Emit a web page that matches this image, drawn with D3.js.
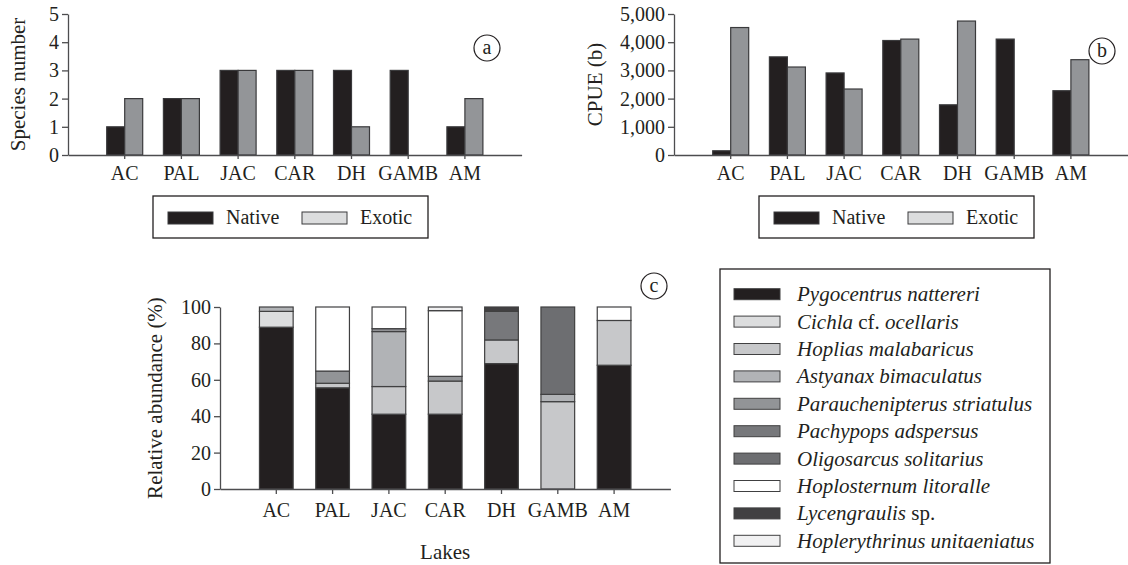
<!DOCTYPE html>
<html>
<head>
<meta charset="utf-8">
<script src="https://d3js.org/d3.v7.min.js"></script>
<style>
	body{margin:0;background:#fff;}
	svg text{font-family:"Liberation Serif","Times New Roman",serif;fill:#231f20;}
</style>
</head>
<body>
<svg id="chart" width="1128" height="565"></svg>
<script>
var lakes = ["AC", "PAL", "JAC", "CAR", "DH", "GAMB", "AM"];
var origins = ["Native", "Exotic"];

var speciesNative = [1, 2, 3, 3, 3, 3, 1];
var speciesExotic = [2, 2, 3, 3, 1, 0, 2];
var speciesTicks = [0, 1, 2, 3, 4, 5];

var cpueNative = [150, 3480, 2910, 4060, 1780, 4110, 2280];
var cpueExotic = [4520, 3120, 2340, 4110, 4750, 0, 3380];
var cpueTicks = [0, 1000, 2000, 3000, 4000, 5000];

var species = [
	"Pygocentrus nattereri", "Cichla cf. ocellaris", "Hoplias malabaricus",
	"Astyanax bimaculatus", "Parauchenipterus striatulus", "Pachypops adspersus",
	"Oligosarcus solitarius", "Hoplosternum litoralle", "Lycengraulis sp.",
	"Hoplerythrinus unitaeniatus"
];
// relative abundance (%) by lake, same order as lakes
var pygocentrus = [88.9, 55.6, 41.1, 41.1, 68.9, 0, 68.0];
var cichla = [8.7, 0, 0, 0, 0, 0, 0];
var hoplias = [0, 2.5, 15.2, 18.2, 13.0, 48.0, 24.6];
var astyanax = [2.4, 0, 30.2, 0, 0, 4.0, 0];
var parauchenipterus = [0, 6.7, 1.6, 2.6, 0, 0, 0];
var pachypops = [0, 0, 0, 0, 15.7, 0, 0];
var oligosarcus = [0, 0, 0, 0, 0, 48.0, 0];
var hoplosternum = [0, 35.2, 11.9, 36.1, 0, 0, 7.4];
var lycengraulis = [0, 0, 0, 0, 2.4, 0, 0];
var hoplerythrinus = [0, 0, 0, 2.0, 0, 0, 0];
var abundanceTicks = [0, 20, 40, 60, 80, 100];

var abundance = [pygocentrus, cichla, hoplias, astyanax, parauchenipterus,
	pachypops, oligosarcus, hoplosternum, lycengraulis, hoplerythrinus];
var speciesColors = ["#231f20", "#dcddde", "#c7c8ca", "#b1b3b6", "#929497",
	"#77787b", "#6d6e71", "#ffffff", "#414042", "#f1f1f2"];

var svg = d3.select("#chart");
var AXIS = "#4d4d4f";

function styleAxis(g){
	g.selectAll("path, line").attr("stroke", AXIS).attr("stroke-width", 1.3);
	g.selectAll("text").style("font-size", "20px").attr("fill", "#231f20");
}

function circleLabel(x, y, t){
	svg.append("circle").attr("cx", x).attr("cy", y).attr("r", 13)
		.attr("fill", "none").attr("stroke", "#231f20").attr("stroke-width", 1.2);
	svg.append("text").attr("x", x).attr("y", y + 6)
		.attr("text-anchor", "middle").style("font-size", "20px").text(t);
}

function yTitle(x, y, t){
	svg.append("text")
		.attr("transform", "translate(" + [x, y] + ") rotate(-90)")
		.attr("text-anchor", "middle")
		.style("font-size", "21px")
		.text(t);
}

function groupedPanel(left, top, bottom, maxVal, nat, exo, ticks, fmt, title, tag, tagPos){
	var step = 56.7;
	var x = d3.scaleBand().domain(lakes).range([left, left + 8 * step]).paddingOuter(0.5);
	var x1 = d3.scaleBand().domain(origins).range([-18, 18]);
	var y = d3.scaleLinear().domain([0, maxVal]).range([bottom, top]);

	var rows = lakes.map(function(d, i){
		return {lake: d, values: [{k: "Native", v: nat[i]}, {k: "Exotic", v: exo[i]}]};
	});

	var g = svg.append("g");
	g.selectAll("g.lake")
		.data(rows)
		.enter()
		.append("g")
		.attr("class", "lake")
		.attr("transform", function(d){ return "translate(" + (x(d.lake) + x.bandwidth() / 2) + ",0)"; })
		.selectAll("rect")
		.data(function(d){ return d.values.filter(function(e){ return e.v > 0; }); })
		.enter()
		.append("rect")
		.attr("x", function(d){ return x1(d.k); })
		.attr("width", x1.bandwidth())
		.attr("y", function(d){ return y(d.v); })
		.attr("height", function(d){ return bottom - y(d.v); })
		.attr("fill", function(d){ return d.k === "Native" ? "#231f20" : "#939598"; })
		.attr("stroke", "#3a3a3c")
		.attr("stroke-width", 1.2);

	svg.append("g")
		.attr("transform", "translate(0," + bottom + ")")
		.call(d3.axisBottom(x).tickSize(4).tickSizeOuter(0).tickPadding(7))
		.call(styleAxis);

	svg.append("g")
		.attr("transform", "translate(" + left + ",0)")
		.call(d3.axisLeft(y).tickValues(ticks).tickFormat(fmt).tickSize(6).tickSizeOuter(0).tickPadding(3))
		.call(styleAxis);

	yTitle(title.x, (top + bottom) / 2, title.text);
	circleLabel(tagPos[0], tagPos[1], tag);

	// legend box
	var lx = left + 85;
	svg.append("rect").attr("x", lx).attr("y", 196).attr("width", 275).attr("height", 42)
		.attr("fill", "none").attr("stroke", "#231f20").attr("stroke-width", 1.3);
	var items = [{k: "Native", c: "#231f20", dx: 15}, {k: "Exotic", c: "#dcddde", dx: 149}];
	items.forEach(function(it){
		svg.append("rect").attr("x", lx + it.dx).attr("y", 212).attr("width", 45).attr("height", 12)
			.attr("fill", it.c).attr("stroke", "#3a3a3c").attr("stroke-width", 1);
		svg.append("text").attr("x", lx + it.dx + 58).attr("y", 224)
			.style("font-size", "20px").text(it.k);
	});
}

groupedPanel(68, 14, 155, 5, speciesNative, speciesExotic, speciesTicks,
	d3.format("d"), {x: 25, text: "Species number"}, "a", [487, 48]);
groupedPanel(674, 14, 155, 5000, cpueNative, cpueExotic, cpueTicks,
	d3.format(","), {x: 602, text: "CPUE (b)"}, "b", [1102, 51]);

// panel c: stacked relative abundance
(function(){
	var left = 220, top = 307, bottom = 489, step = 56.3;
	var x = d3.scaleBand().domain(lakes).range([left, left + 8 * step]).paddingOuter(0.5);
	var y = d3.scaleLinear().domain([0, 100]).range([bottom, top]);
	var bw = 33.7;

	var table = lakes.map(function(d, i){
		var row = {lake: d};
		species.forEach(function(s, j){ row[s] = abundance[j][i]; });
		return row;
	});
	var stack = d3.stack().keys(species)(table);

	svg.append("g")
		.selectAll("g")
		.data(stack)
		.enter()
		.append("g")
		.attr("fill", function(d, i){ return speciesColors[i]; })
		.selectAll("rect")
		.data(function(d){ return d.filter(function(e){ return e[1] - e[0] > 0; }); })
		.enter()
		.append("rect")
		.attr("x", function(d){ return x(d.data.lake) + x.bandwidth() / 2 - bw / 2; })
		.attr("width", bw)
		.attr("y", function(d){ return y(d[1]); })
		.attr("height", function(d){ return y(d[0]) - y(d[1]); })
		.attr("stroke", "#404041")
		.attr("stroke-width", 1.2);

	svg.append("g")
		.attr("transform", "translate(0," + bottom + ")")
		.call(d3.axisBottom(x).tickSize(5).tickSizeOuter(0).tickPadding(9))
		.call(styleAxis);

	svg.append("g")
		.attr("transform", "translate(" + left + ",0)")
		.call(d3.axisLeft(y).tickValues(abundanceTicks).tickSize(6).tickSizeOuter(0).tickPadding(3))
		.call(styleAxis);

	yTitle(162, 398, "Relative abundance (%)");
	svg.append("text").attr("x", (left + left + 8 * step) / 2).attr("y", 559)
		.attr("text-anchor", "middle").style("font-size", "21px").text("Lakes");
	circleLabel(654, 286, "c");

	// species legend
	svg.append("rect").attr("x", 720).attr("y", 269).attr("width", 330).attr("height", 294)
		.attr("fill", "none").attr("stroke", "#231f20").attr("stroke-width", 1.3);
	var rowY = d3.scaleBand().domain(species).range([280.5, 554.5]);
	var leg = svg.append("g").selectAll("g")
		.data(species)
		.enter()
		.append("g")
		.attr("transform", function(d){ return "translate(0," + (rowY(d) + rowY.bandwidth() / 2) + ")"; });
	leg.append("rect")
		.attr("x", 734).attr("y", -5.5).attr("width", 46).attr("height", 11)
		.attr("fill", function(d, i){ return speciesColors[i]; })
		.attr("stroke", "#404041").attr("stroke-width", 1);
	leg.append("text")
		.attr("x", 797).attr("y", 7)
		.style("font-size", "21px")
		.each(function(d){
			var t = d3.select(this);
			// genus/species italic, "cf." and "sp." upright
			d.split(" ").forEach(function(w, k){
				var up = (w === "cf." || w === "sp.");
				t.append("tspan")
					.style("font-style", up ? "normal" : "italic")
					.text((k > 0 ? " " : "") + w);
			});
		});
})();
</script>
</body>
</html>
